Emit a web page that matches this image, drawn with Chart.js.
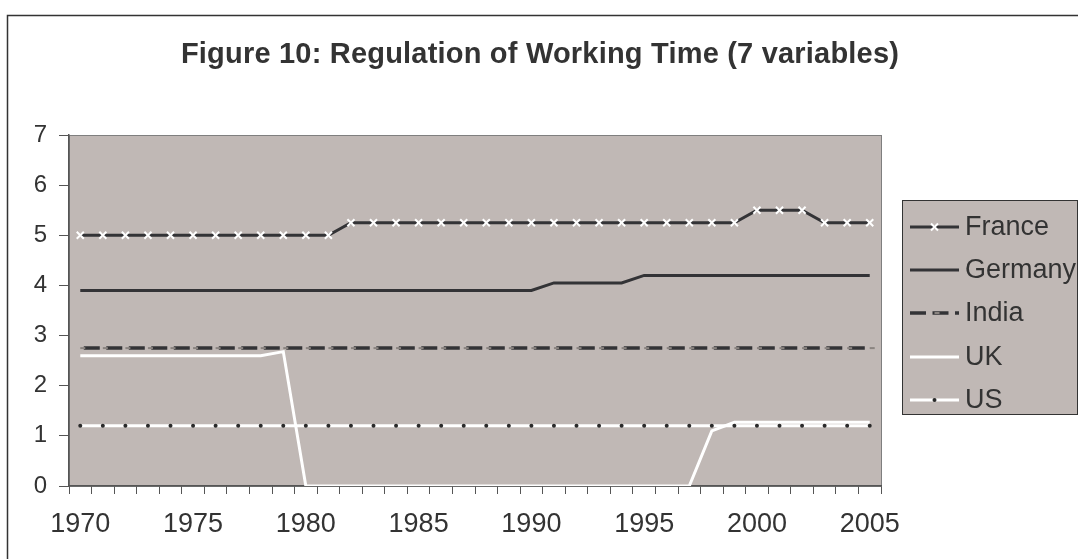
<!DOCTYPE html>
<html>
<head>
<meta charset="utf-8">
<script src="https://cdn.jsdelivr.net/npm/chart.js@4.4.0/dist/chart.umd.min.js"></script>
<style>
  html, body { margin: 0; padding: 0; background: #fff; }
  #wrap { width: 1078px; height: 559px; position: relative; }
</style>
</head>
<body>
<div id="wrap"><canvas id="chart" width="1078" height="559"></canvas></div>
<script>
// data
var chartTitle = 'Figure 10: Regulation of Working Time (7 variables)';
var years = ['1970','1971','1972','1973','1974','1975','1976','1977','1978','1979',
             '1980','1981','1982','1983','1984','1985','1986','1987','1988','1989',
             '1990','1991','1992','1993','1994','1995','1996','1997','1998','1999',
             '2000','2001','2002','2003','2004','2005'];

var france  = [5,5,5,5,5,5,5,5,5,5,5,5,
               5.25,5.25,5.25,5.25,5.25,5.25,5.25,5.25,5.25,5.25,5.25,5.25,5.25,5.25,5.25,5.25,5.25,5.25,
               5.5,5.5,5.5,5.25,5.25,5.25];
var germany = [3.9,3.9,3.9,3.9,3.9,3.9,3.9,3.9,3.9,3.9,3.9,3.9,3.9,3.9,3.9,3.9,3.9,3.9,3.9,3.9,3.9,
               4.05,4.05,4.05,4.05,
               4.2,4.2,4.2,4.2,4.2,4.2,4.2,4.2,4.2,4.2,4.2];
var india   = [2.75,2.75,2.75,2.75,2.75,2.75,2.75,2.75,2.75,2.75,2.75,2.75,2.75,2.75,2.75,2.75,2.75,2.75,
               2.75,2.75,2.75,2.75,2.75,2.75,2.75,2.75,2.75,2.75,2.75,2.75,2.75,2.75,2.75,2.75,2.75,2.75];
var uk      = [2.6,2.6,2.6,2.6,2.6,2.6,2.6,2.6,2.6,2.68,
               0,0,0,0,0,0,0,0,0,0,0,0,0,0,0,0,0,0,
               1.1,1.27,1.27,1.27,1.27,1.27,1.27,1.27];
var us      = [1.2,1.2,1.2,1.2,1.2,1.2,1.2,1.2,1.2,1.2,1.2,1.2,1.2,1.2,1.2,1.2,1.2,1.2,
               1.2,1.2,1.2,1.2,1.2,1.2,1.2,1.2,1.2,1.2,1.2,1.2,1.2,1.2,1.2,1.2,1.2,1.2];
var yTicks = [0,1,2,3,4,5,6,7];

var FONT = '"Liberation Sans", Arial, Helvetica, sans-serif';
var DARK = '#333336';
var PLOT_BG = '#c0b8b5';

// grey plot area, outer frame and the title centred on the whole figure
var backdrop = {
  id: 'backdrop',
  beforeDraw: function(chart) {
    var ctx = chart.ctx, a = chart.chartArea;
    ctx.save();
    ctx.fillStyle = '#fff';
    ctx.fillRect(0, 0, chart.width, chart.height);
    ctx.strokeStyle = '#333';
    ctx.lineWidth = 1.5;
    ctx.strokeRect(7.5, 15.5, chart.width + 20, chart.height + 20);
    ctx.fillStyle = PLOT_BG;
    ctx.fillRect(a.left, a.top, a.right - a.left, a.bottom - a.top);
    ctx.strokeStyle = '#7f7f7f';
    ctx.lineWidth = 1;
    ctx.strokeRect(a.left + 0.5, a.top + 0.5, a.right - a.left, a.bottom - a.top);

    ctx.fillStyle = '#333';
    ctx.font = 'bold 29px ' + FONT;
    if ('letterSpacing' in ctx) ctx.letterSpacing = '0.2px';
    ctx.textAlign = 'center';
    ctx.textBaseline = 'middle';
    ctx.fillText(chartTitle, 540, 55);
    ctx.restore();
  }
};

function drawMarker(ctx, ds, x, y) {
  var r = ds.pointRadius;
  if (!r) return;
  ctx.save();
  ctx.strokeStyle = ds.pointBorderColor;
  ctx.fillStyle = ds.pointBackgroundColor;
  ctx.lineWidth = ds.pointBorderWidth;
  ctx.setLineDash([]);
  ctx.beginPath();
  if (ds.pointStyle === 'crossRot') {
    ctx.moveTo(x - r * 0.7, y - r * 0.7); ctx.lineTo(x + r * 0.7, y + r * 0.7);
    ctx.moveTo(x + r * 0.7, y - r * 0.7); ctx.lineTo(x - r * 0.7, y + r * 0.7);
    ctx.stroke();
  } else if (ds.pointStyle === 'dash') {
    ctx.moveTo(x, y); ctx.lineTo(x + r, y);
    ctx.stroke();
  } else {
    ctx.arc(x, y, r, 0, Math.PI * 2);
    ctx.fill();
  }
  ctx.restore();
}

// legend box on the right, Excel style
var sideLegend = {
  id: 'sideLegend',
  afterDraw: function(chart) {
    var ctx = chart.ctx;
    var bx = 902, by = 200, bw = 176, bh = 215;
    ctx.save();
    ctx.fillStyle = PLOT_BG;
    ctx.fillRect(bx, by, bw, bh);
    ctx.strokeStyle = '#333';
    ctx.lineWidth = 1;
    ctx.strokeRect(bx + 0.5, by + 0.5, bw - 1, bh - 1);
    var rowY = [227, 270, 313, 357, 400];
    chart.data.datasets.forEach(function(ds, i) {
      var y = rowY[i];
      ctx.strokeStyle = ds.borderColor;
      ctx.lineWidth = ds.borderWidth;
      ctx.setLineDash(ds.borderDash || []);
      ctx.beginPath();
      ctx.moveTo(910, y);
      ctx.lineTo(959, y);
      ctx.stroke();
      drawMarker(ctx, ds, 934.5, y);
      ctx.setLineDash([]);
      ctx.fillStyle = '#333';
      ctx.font = '27px ' + FONT;
      ctx.textBaseline = 'middle';
      ctx.textAlign = 'left';
      ctx.fillText(ds.label, 965, y + 1);
    });
    ctx.restore();
  }
};

new Chart(document.getElementById('chart'), {
  type: 'line',
  data: {
    labels: years,
    datasets: [
      { label: 'France', data: france, order: 4,
        borderColor: DARK, borderWidth: 3, pointStyle: 'crossRot', pointRadius: 5,
        pointBorderColor: '#ffffff', pointBackgroundColor: '#ffffff', pointBorderWidth: 2 },
      { label: 'Germany', data: germany, order: 3,
        borderColor: DARK, borderWidth: 3, pointRadius: 0 },
      { label: 'India', data: india, order: 2,
        borderColor: DARK, borderWidth: 3.5, borderDash: [16, 6.5], borderDashOffset: 19,
        pointStyle: 'dash', pointRadius: 5, pointBorderColor: '#8a8480', pointBorderWidth: 2 },
      { label: 'UK', data: uk, order: 1,
        borderColor: '#ffffff', borderWidth: 3, pointRadius: 0 },
      { label: 'US', data: us, order: 0,
        borderColor: '#ffffff', borderWidth: 3, pointStyle: 'circle', pointRadius: 2,
        pointBackgroundColor: '#2a2a2a', pointBorderColor: '#2a2a2a', pointBorderWidth: 0 }
    ]
  },
  options: {
    responsive: false,
    animation: false,
    events: [],
    layout: { padding: { left: 0, right: 197, top: 135, bottom: 0 } },
    elements: { line: { tension: 0, borderCapStyle: 'butt', borderJoinStyle: 'miter', fill: false } },
    plugins: {
      legend: { display: false },
      tooltip: { enabled: false },
      title: { display: false }
    },
    scales: {
      x: {
        type: 'category',
        offset: true,
        grid: { offset: true, drawOnChartArea: false, drawTicks: true, tickLength: 8, color: '#555' },
        border: { display: true, color: '#555', width: 1.5 },
        ticks: {
          autoSkip: false, maxRotation: 0, minRotation: 0,
          color: '#333', font: { family: FONT, size: 27 }, padding: 14,
          callback: function(v, i) { return i % 5 === 0 ? years[i] : ''; }
        },
        afterFit: function(s) { s.height = 73; }
      },
      y: {
        min: 0, max: 7,
        afterBuildTicks: function(s) { s.ticks = yTicks.map(function(v) { return { value: v }; }); },
        grid: { drawOnChartArea: false, drawTicks: true, tickLength: 10, color: '#555' },
        border: { display: true, color: '#555', width: 1.5 },
        ticks: { color: '#333', font: { family: FONT, size: 24 }, padding: 12 },
        afterFit: function(s) { s.width = 69; }
      }
    }
  },
  plugins: [backdrop, sideLegend]
});
</script>
</body>
</html>
